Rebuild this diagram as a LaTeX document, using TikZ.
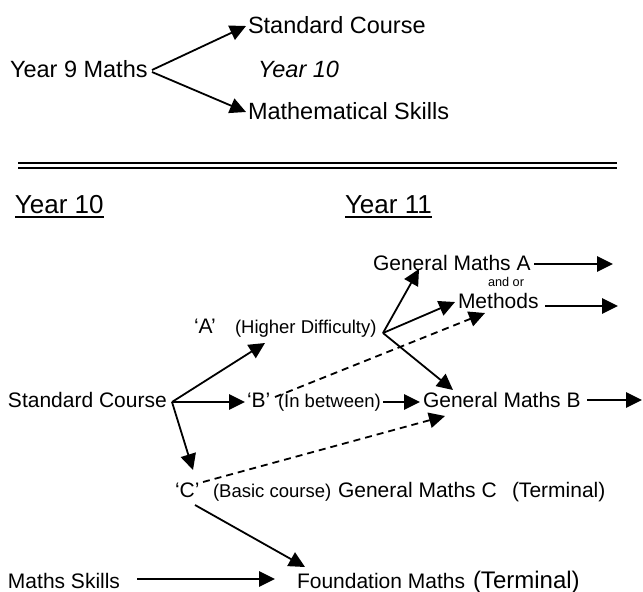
\documentclass[tikz,border=0pt]{standalone}
\usepackage{fontspec}
\setmainfont{Liberation Sans}
\usetikzlibrary{arrows.meta,calc}
\begin{document}
\begin{tikzpicture}[x=1pt,y=-1pt,
  txt/.style={inner sep=0pt, outer sep=0pt, anchor=base west},
  big/.style={font=\fontsize{23.5}{28}\selectfont},
  head/.style={font=\fontsize{26}{31}\selectfont},
  main/.style={font=\fontsize{21}{25}\selectfont},
  small/.style={font=\fontsize{18.5}{22}\selectfont},
  tiny/.style={font=\fontsize{12.7}{15}\selectfont},
  arr/.style={line width=1.8pt, -{Triangle[length=16pt,width=15.5pt]}},
  darr/.style={arr, dash pattern=on 7pt off 5pt},
  rule/.style={line width=2.5pt}]
\useasboundingbox (0,0) rectangle (643,592);

% ---- top part ----
\node[txt,big] (y9) at (10,77) {Year 9 Maths};
\node[txt,big] (sc1) at (248,33) {Standard Course};
\node[txt,big,font=\fontsize{23.5}{28}\selectfont\itshape] (y10i) at (258,77) {Year 10};
\node[txt,big] (ms1) at (248,119) {Mathematical Skills};
\coordinate (y9a) at (152,70);
\coordinate (y9b) at (152,72);
\coordinate (sc1t) at (246,26);
\coordinate (ms1t) at (246,112);
\draw[arr] (y9a) -- (sc1t);
\draw[arr] (y9b) -- (ms1t);

% ---- double rule ----
\draw[rule] (18,163) -- (617,163);
\draw[rule] (18,168) -- (617,168);

% ---- headings ----
\node[txt,head] (h10) at (15,213) {Year 10};
\node[txt,head] (h11) at (345,213) {Year 11};
\draw[line width=1.8pt] ($(h10.base west)+(0,4)$) -- ($(h10.base east)+(0,4)$);
\draw[line width=1.8pt] ($(h11.base west)+(0,4)$) -- ($(h11.base east)+(0,4)$);

% ---- lower part texts ----
\node[txt,main] (qa) at (194,333) {‘A’};
\node[txt,small] (hd) at (235,333) {(Higher Difficulty)};
\node[txt,main] (gma) at (373,270) {General Maths A};
\node[txt,tiny] (andor) at (488,286) {and or};
\node[txt,main] (meth) at (458,308) {Methods};
\node[txt,main] (sc2) at (8,407) {Standard Course};
\node[txt,main] (qb) at (247,407) {‘B’};
\node[txt,small] (ib) at (278,407) {(In between)};
\node[txt,main] (gmb) at (423,407) {General Maths B};
\node[txt,main] (qc) at (175,497) {‘C’};
\node[txt,small] (bc) at (213,497) {(Basic course)};
\node[txt,main] (gmc) at (338,497) {General Maths C};
\node[txt,main] (term1) at (512,497) {(Terminal)};
\node[txt,main] (msk) at (8,588) {Maths Skills};
\node[txt,main] (fm) at (297,588) {Foundation Maths};
\node[txt,font=\fontsize{24}{29}\selectfont] (term2) at (473,588) {(Terminal)};

% ---- junctions and tips ----
\coordinate (j1) at (172,402);
\coordinate (j2) at (383,333);
\coordinate (at) at (265,343);
\coordinate (bt) at (245,402);
\coordinate (ct) at (193,470);
\coordinate (gmat) at (419,269);
\coordinate (metht) at (455,302);
\coordinate (gmbt) at (453,390);
\coordinate (bd) at (275,397);
\coordinate (bdt) at (485,313);
\coordinate (cd) at (203,482);
\coordinate (cdt) at (445,416);
\coordinate (ibs) at (383,402);
\coordinate (ibt) at (420,402);
\coordinate (gmas) at (534,264);
\coordinate (gmae) at (613,264);
\coordinate (meths) at (545,306);
\coordinate (methe) at (618,306);
\coordinate (gmbs) at (587,400);
\coordinate (gmbe) at (642,400);
\coordinate (cf) at (195,505);
\coordinate (cft) at (305,567);
\coordinate (msks) at (137,579);
\coordinate (mske) at (275,579);

% ---- connectors ----
\draw[arr] (j1) -- (at);
\draw[arr] (j1) -- (bt);
\draw[arr] (j1) -- (ct);
\draw[arr] (j2) -- (gmat);
\draw[arr] (j2) -- (metht);
\draw[arr] (j2) -- (gmbt);
\draw[darr] (bd) -- (bdt);
\draw[darr] (cd) -- (cdt);
\draw[arr] (ibs) -- (ibt);
\draw[arr] (gmas) -- (gmae);
\draw[arr] (meths) -- (methe);
\draw[arr] (gmbs) -- (gmbe);
\draw[arr] (cf) -- (cft);
\draw[arr] (msks) -- (mske);
\end{tikzpicture}
\end{document}
